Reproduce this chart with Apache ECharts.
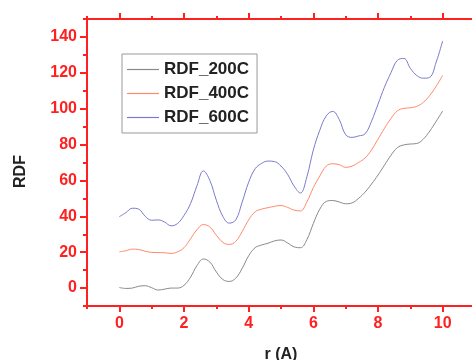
<!DOCTYPE html>
<html>
<head>
<meta charset="utf-8">
<script src="https://cdn.jsdelivr.net/npm/echarts@6/dist/echarts.min.js"></script>
<style>html,body{margin:0;padding:0;background:#fff;}#c{width:472px;height:360px;}</style>
</head>
<body>
<div id="c"></div>
<script>
var r = [0,0.2,0.4,0.6,0.8,1.0,1.2,1.4,1.6,1.8,2.0,2.2,2.4,2.6,2.8,3.0,3.2,3.4,3.6,3.8,4.0,4.2,4.4,4.6,4.8,5.0,5.2,5.4,5.6,5.8,6.0,6.2,6.4,6.6,6.8,7.0,7.2,7.4,7.6,7.8,8.0,8.2,8.4,8.6,8.8,9.0,9.2,9.4,9.6,9.8,10.0];
var rdf200 = [0.3,-0.2,0.0,1.0,1.3,0.2,-1.1,-0.6,0,0,1.5,6,12.5,16.2,14.5,9,4.8,3.7,5.5,11,18,22.5,24,25,26.3,26.8,25.2,23,22.5,27,36,44,48.3,48.8,48,47,47.5,50,53.5,58,63,68.5,74,78.3,79.8,80.3,80.6,83,87.5,93,98.7];
var rdf400 = [20.2,20.8,21.7,21.5,20.5,19.9,19.8,19.7,19.3,20.2,22.5,27.4,32.5,35.4,34,29.5,25.5,24.3,26,31.5,38,42.5,44,44.8,45.6,46,45,43.5,43,48,56,62.5,68,69.3,68.8,67.3,68,70,72.5,77,83,89,94.5,98.8,100.2,100.5,101.3,103.5,107.4,112.5,118.6];
var rdf600 = [39.8,42,44.5,44,40,37.8,38,36.8,34.7,36,40.5,47,57,65.3,60,49,40,36.2,38,48,59,66.5,69.5,70.8,70.5,68,63.5,57,53,62,77,88,96,98.5,94,85.5,84,84.8,86,93,102.5,112,120,127,128,122.5,118.5,117,117.5,126,137.8];
var seriesNames = ['RDF_200C','RDF_400C','RDF_600C'];
var xMajor = [0,2,4,6,8,10];
var xMinor = [-1,1,3,5,7,9,11];
var yMajor = [0,20,40,60,80,100,120,140];
var yMinor = [-10,10,30,50,70,90,110,130,150];

var RED = '#ff2020';
var FONT = 'Liberation Sans, Arial, sans-serif';
var COLORS = ['#8a8a8a', '#ff8a6a', '#7b7bcc'];
function pairs(v){ return r.map(function(x,i){ return [x, v[i]]; }); }

var chart = echarts.init(document.getElementById('c'), null, {renderer:'canvas'});
var baseX = {type:'value', min:-1, max:11, splitLine:{show:false}};
var baseY = {type:'value', min:-10, max:150, splitLine:{show:false}};
chart.setOption({
  animation:false,
  backgroundColor:'#fff',
  color: COLORS,
  grid:{left:87, top:19, width:388, height:287, containLabel:false, outerBoundsMode:'none'},
  legend:{
    orient:'vertical', left:122, top:54,
    data: seriesNames,
    icon:'path://M0 0H32V1.2H0Z', symbolKeepAspect:true,
    backgroundColor:'#fff', borderColor:'#999', borderWidth:1,
    padding:[7,8,7,5], itemGap:7, itemWidth:32, itemHeight:14,
    textStyle:{fontFamily:FONT, fontWeight:'bold', fontSize:17, color:'#222', padding:[0,0,0,0]}
  },
  xAxis:[
    Object.assign({}, baseX, {position:'bottom', name:'r (A)', nameLocation:'middle', nameGap:41,
      nameTextStyle:{fontFamily:FONT, fontWeight:'bold', fontSize:16, color:'#222'},
      axisLine:{show:true, onZero:false, lineStyle:{color:RED, width:2}},
      axisTick:{show:true, customValues:xMajor, length:6, lineStyle:{color:RED, width:2}},
      axisLabel:{show:true, customValues:xMajor, margin:10, color:RED, fontFamily:FONT, fontWeight:'bold', fontSize:16}}),
    Object.assign({}, baseX, {position:'bottom', axisLine:{show:false, onZero:false},
      axisTick:{show:true, customValues:xMinor, length:3, lineStyle:{color:RED, width:2}},
      axisLabel:{show:false}}),
    Object.assign({}, baseX, {position:'top',
      axisLine:{show:true, onZero:false, lineStyle:{color:RED, width:2}},
      axisTick:{show:true, customValues:xMajor, length:6, lineStyle:{color:RED, width:2}},
      axisLabel:{show:false}}),
    Object.assign({}, baseX, {position:'top', axisLine:{show:false, onZero:false},
      axisTick:{show:true, customValues:xMinor, length:3, lineStyle:{color:RED, width:2}},
      axisLabel:{show:false}})
  ],
  yAxis:[
    Object.assign({}, baseY, {position:'left', name:'RDF', nameLocation:'middle', nameGap:58,
      nameTextStyle:{fontFamily:FONT, fontWeight:'bold', fontSize:16, color:'#222', padding:[0,18,0,0]},
      axisLine:{show:true, onZero:false, lineStyle:{color:RED, width:2}},
      axisTick:{show:true, customValues:yMajor, length:7, lineStyle:{color:RED, width:2}},
      axisLabel:{show:true, customValues:yMajor, margin:10, color:RED, fontFamily:FONT, fontWeight:'bold', fontSize:16}}),
    Object.assign({}, baseY, {position:'left', axisLine:{show:false, onZero:false},
      axisTick:{show:true, customValues:yMinor, length:4, lineStyle:{color:RED, width:2}},
      axisLabel:{show:false}})
  ],
  series:[
    {name:seriesNames[0], type:'line', data:pairs(rdf200), smooth:0.4, symbol:'none', lineStyle:{color:COLORS[0], width:1}, itemStyle:{color:COLORS[0]}},
    {name:seriesNames[1], type:'line', data:pairs(rdf400), smooth:0.4, symbol:'none', lineStyle:{color:COLORS[1], width:1}, itemStyle:{color:COLORS[1]}},
    {name:seriesNames[2], type:'line', data:pairs(rdf600), smooth:0.4, symbol:'none', lineStyle:{color:COLORS[2], width:1}, itemStyle:{color:COLORS[2]}}
  ]
});
</script>
</body>
</html>
